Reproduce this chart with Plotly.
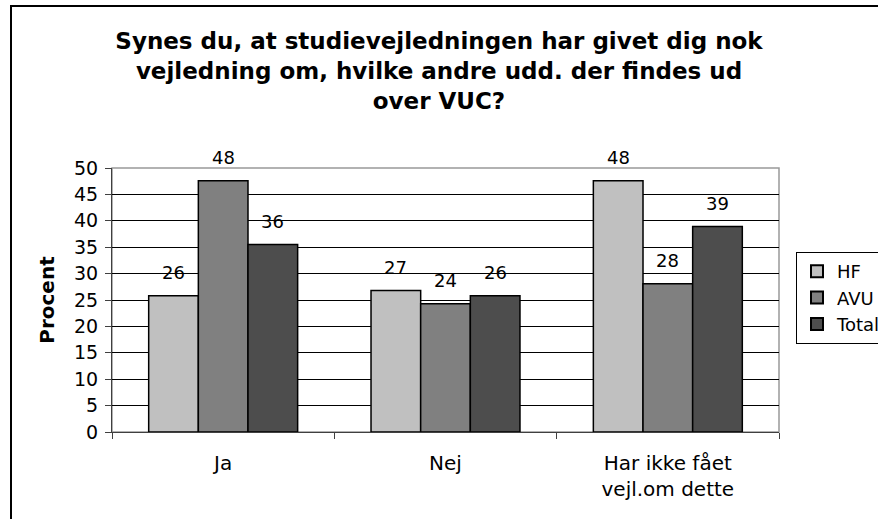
import plotly.graph_objects as go

categories = ["Ja", "Nej", "Har ikke fået<br>vejl.om dette"]
series_names = ["HF", "AVU", "Total"]
hf_values = [25.8, 26.8, 47.6]
avu_values = [47.6, 24.3, 28.1]
total_values = [35.5, 25.8, 38.9]
colors = ["#c0c0c0", "#808080", "#4d4d4d"]
y_ticks = list(range(0, 51, 5))

FONT = "DejaVu Sans, Verdana, sans-serif"

W, H = 878, 519
L, R, T, B = 112, 99, 168, 87
pw, ph = W - L - R, H - T - B
BARGAP = 0.33


def px_x(px):
    return (px - L) / pw


def px_y(py):
    return (H - B - py) / ph


fig = go.Figure()
all_series = [hf_values, avu_values, total_values]
bar_w = pw / len(categories) * (1 - BARGAP) / len(all_series)
annotations = []
for i, (name, vals, col) in enumerate(zip(series_names, all_series, colors)):
    fig.add_trace(go.Bar(
        name=name, x=categories, y=vals,
        marker=dict(color=col, line=dict(color="black", width=1.5)),
    ))
    off = (i - (len(all_series) - 1) / 2) * bar_w
    for c, v in zip(categories, vals):
        annotations.append(dict(
            x=c, y=v, xref="x", yref="y", text=f"{v:.0f}", showarrow=False,
            xshift=off, yshift=11, yanchor="bottom",
            font=dict(family=FONT, size=18, color="black"),
        ))

fig.update_layout(
    width=W, height=H,
    margin=dict(l=L, r=R, t=T, b=B, autoexpand=False),
    paper_bgcolor="white", plot_bgcolor="white",
    barmode="group", bargap=BARGAP, bargroupgap=0,
    font=dict(family=FONT, size=18, color="black"),
    title=dict(
        text="Synes du, at studievejledningen har givet dig nok<br>vejledning om, hvilke andre udd. der findes ud<br>over VUC?",
        x=0.5, xanchor="center", y=0.905, yanchor="top",
        font=dict(family=FONT, size=23, color="black", weight="bold"),
    ),
    legend=dict(
        x=px_x(796), y=px_y(252), xanchor="left", yanchor="top",
        bordercolor="black", borderwidth=1, bgcolor="white",
        font=dict(family=FONT, size=18, color="black"),
        tracegroupgap=0, itemsizing="constant",
    ),
    showlegend=True,
    annotations=annotations,
    xaxis=dict(
        showgrid=False, showline=True, linecolor="#404040", linewidth=1,
        ticks="outside", tickson="boundaries", ticklen=6, tickcolor="#404040",
        tickfont=dict(family=FONT, size=20, color="black"),
        ticklabelstandoff=13, automargin=False,
    ),
    yaxis=dict(
        range=[0, 50], tickvals=y_ticks, showgrid=True, gridcolor="black", gridwidth=1,
        showline=True, linecolor="#404040", linewidth=1,
        ticks="outside", ticklen=6, tickcolor="#404040",
        tickfont=dict(family=FONT, size=19, color="black"),
        ticklabelstandoff=3, automargin=False,
        title=dict(text="<b>Procent</b>", font=dict(family=FONT, size=20, color="black"), standoff=14),
        zeroline=False,
    ),
    shapes=[
        dict(type="rect", xref="paper", yref="paper", x0=0, x1=1, y0=0, y1=1,
             line=dict(color="#999999", width=1.5), layer="below"),
        dict(type="rect", xref="paper", yref="paper",
             x0=px_x(11), x1=px_x(W + 20), y0=px_y(H + 20), y1=px_y(6),
             line=dict(color="black", width=2)),
    ],
)

fig.write_html(
    "out.html",
    config={"displayModeBar": False},
    post_script="document.body.style.margin='0';document.body.style.overflow='hidden';",
)
